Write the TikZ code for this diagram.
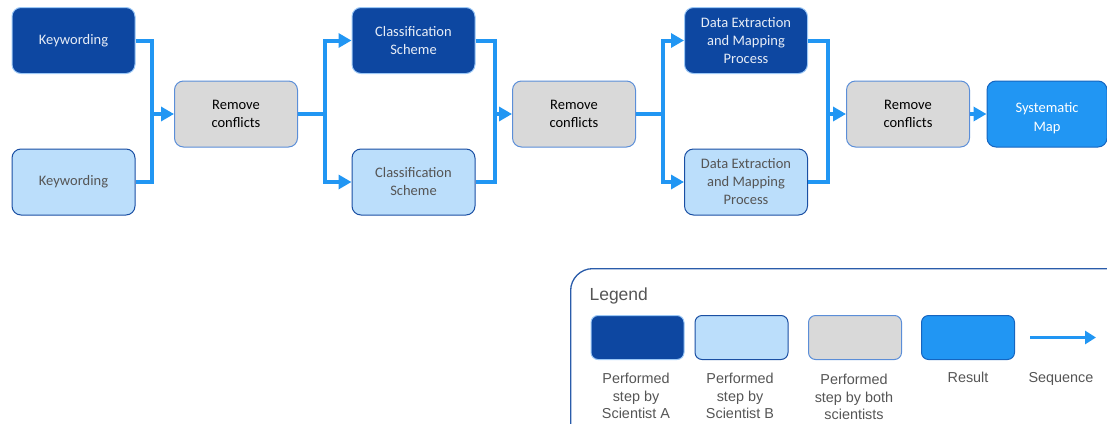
\documentclass[tikz,border=0pt]{standalone}
\usepackage{fontspec}
\setmainfont{Carlito}
\newfontfamily\legendfont{Liberation Sans}
\usetikzlibrary{arrows.meta}
\definecolor{sciA}{HTML}{0D47A1}
\definecolor{sciAedge}{HTML}{9CC8F6}
\definecolor{sciB}{HTML}{BBDEFB}
\definecolor{sciBedge}{HTML}{1A4FA3}
\definecolor{both}{HTML}{D9D9D9}
\definecolor{bothedge}{HTML}{5B8ED8}
\definecolor{result}{HTML}{2196F3}
\definecolor{resultedge}{HTML}{1565C0}
\definecolor{flow}{HTML}{2196F3}
\definecolor{legendedge}{HTML}{2A5CAA}
\definecolor{txtgray}{HTML}{555555}
\tikzset{
  stepbox/.style={rounded corners=9pt, minimum width=123pt, minimum height=66pt,
    align=center, inner sep=2pt, font=\fontsize{14.5}{18}\selectfont},
  boxA/.style={stepbox, fill=sciA, draw=sciAedge, line width=1pt, text=white!90!sciA},
  boxB/.style={stepbox, fill=sciB, draw=sciBedge, line width=1pt, text=txtgray},
  boxC/.style={stepbox, fill=both, draw=bothedge, line width=1pt, text=black},
  boxR/.style={stepbox, fill=result, draw=resultedge, line width=1pt, text=white},
  flowline/.style={draw=flow, line width=4pt},
  flowarrow/.style={flowline, -{Triangle[length=13pt,width=14pt]}},
  legendbox/.style={rounded corners=7pt, minimum width=93pt, minimum height=44pt, inner sep=0pt},
  legendlabel/.style={align=center, anchor=north, text=txtgray, inner sep=0pt,
    font=\legendfont\fontsize{14.4}{17.5}\selectfont},
}
\begin{document}
\begin{tikzpicture}[x=1pt, y=-1pt]
\useasboundingbox (0,0) rectangle (1107,423);
\clip (0,0) rectangle (1107,423);

% process steps
\node[boxA] (ka) at (73.5,40.5) {Keywording};
\node[boxB] (kb) at (73.5,182) {Keywording};
\node[boxC] (rc1) at (236,114) {Remove\\conflicts};
\node[boxA] (ca) at (413.5,40.5) {Classification\\Scheme};
\node[boxB] (cb) at (413.5,182) {Classification\\Scheme};
\node[boxC] (rc2) at (574,114) {Remove\\conflicts};
\node[boxA] (da) at (746,40.5) {Data Extraction\\and Mapping\\Process};
\node[boxB] (db) at (746,182) {Data Extraction\\and Mapping\\Process};
\node[boxC] (rc3) at (908,114) {Remove\\conflicts};
% result text sits a little below the box centre
\node[boxR, minimum width=120pt] (sm) at (1047,114)
  {\raisebox{-4pt}[\dimexpr\height+4pt\relax][\dimexpr\depth+4pt\relax]{\begin{tabular}{@{}c@{}}Systematic\\[1pt]Map\end{tabular}}};

% merge and split points
\coordinate (m1) at (152,114);
\coordinate (s1) at (325,114);
\coordinate (m2) at (495,114);
\coordinate (s2) at (663,114);
\coordinate (m3) at (828,114);

% sequence connectors
\draw[flowline] (ka.east) -| (m1);
\draw[flowline] (kb.east) -| (m1);
\draw[flowarrow] (m1) -- (rc1.west);
\draw[flowline] (rc1.east) -- (s1);
\draw[flowarrow] (s1) |- (ca.west);
\draw[flowarrow] (s1) |- (cb.west);
\draw[flowline] (ca.east) -| (m2);
\draw[flowline] (cb.east) -| (m2);
\draw[flowarrow] (m2) -- (rc2.west);
\draw[flowline] (rc2.east) -- (s2);
\draw[flowarrow] (s2) |- (da.west);
\draw[flowarrow] (s2) |- (db.west);
\draw[flowline] (da.east) -| (m3);
\draw[flowline] (db.east) -| (m3);
\draw[flowarrow] (m3) -- (rc3.west);
\draw[flowarrow] (rc3.east) -- (sm.west);

% legend
\node[draw=legendedge, line width=1.3pt, rounded corners=22pt, minimum width=560pt,
  minimum height=180pt, anchor=north west] (legend) at (570,268) {};
\node[anchor=west, text=txtgray, font=\legendfont\fontsize{17.5}{20}\selectfont] (legtitle) at (586,296) {Legend};
\node[legendbox, fill=sciA, draw=sciAedge, line width=1pt] (lA) at (637.5,337.5) {};
\node[legendbox, fill=sciB, draw=sciBedge, line width=1pt] (lB) at (741.5,337.5) {};
\node[legendbox, fill=both, draw=bothedge, line width=1pt] (lC) at (855,337.5) {};
\node[legendbox, fill=result, draw=resultedge, line width=1pt] (lR) at (968,337.5) {};
\coordinate (seqstart) at (1030,337.5);
\coordinate (seqend) at (1096,337.5);
\draw[flowline, line width=3.5pt, -{Triangle[length=11pt,width=13pt]}] (seqstart) -- (seqend);

\node[legendlabel] (tA) at (636,373) {Performed\\step by\\Scientist A};
\node[legendlabel] (tB) at (740,373) {Performed\\step by\\Scientist B};
\node[legendlabel] (tC) at (854,374) {Performed\\step by both\\scientists};
\node[legendlabel] (tR) at (968,372) {Result};
\node[legendlabel] (tS) at (1061,372) {Sequence};
\end{tikzpicture}
\end{document}
